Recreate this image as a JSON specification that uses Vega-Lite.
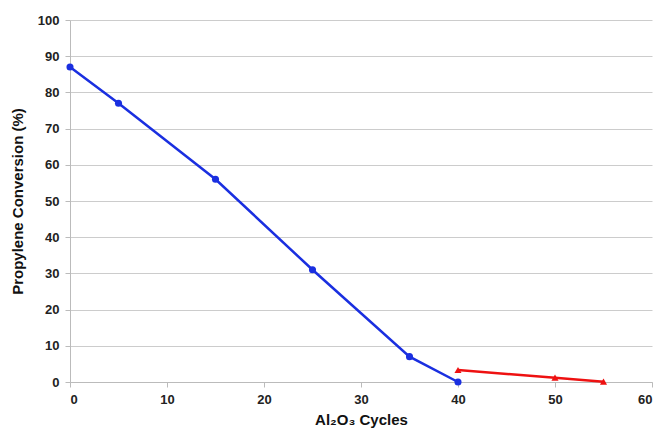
{
  "$schema": "https://vega.github.io/schema/vega-lite/v6.json",
  "width": 582,
  "height": 362,
  "autosize": "none",
  "padding": {"left": 70, "top": 20, "right": 10, "bottom": 53},
  "background": "white",
  "config": {
    "view": {"stroke": null},
    "font": "Liberation Sans",
    "axis": {
      "labelFont": "Liberation Sans",
      "titleFont": "Liberation Sans",
      "labelFontWeight": "bold",
      "titleFontWeight": "bold",
      "labelColor": "#222",
      "titleColor": "#111",
      "labelFontSize": 13,
      "titleFontSize": 15,
      "domainColor": "#bbbbbb",
      "tickColor": "#bbbbbb",
      "gridColor": "#cccccc"
    }
  },
  "data": {
    "values": [
      {"cycles": 0, "conv": 87, "series": "A"},
      {"cycles": 5, "conv": 77, "series": "A"},
      {"cycles": 15, "conv": 56, "series": "A"},
      {"cycles": 25, "conv": 31, "series": "A"},
      {"cycles": 35, "conv": 7, "series": "A"},
      {"cycles": 40, "conv": 0, "series": "A"},
      {"cycles": 40, "conv": 3.3, "series": "B"},
      {"cycles": 50, "conv": 1.2, "series": "B"},
      {"cycles": 55, "conv": 0.1, "series": "B"}
    ]
  },
  "encoding": {
    "x": {
      "field": "cycles", "type": "quantitative",
      "scale": {"domain": [0, 60], "nice": false},
      "axis": {"values": [0, 10, 20, 30, 40, 50, 60], "grid": false, "title": "Al₂O₃ Cycles", "titlePadding": 6, "labelPadding": 6, "tickSize": 5}
    },
    "y": {
      "field": "conv", "type": "quantitative",
      "scale": {"domain": [0, 100], "nice": false},
      "axis": {"values": [0, 10, 20, 30, 40, 50, 60, 70, 80, 90, 100], "grid": true, "title": "Propylene Conversion (%)", "titlePadding": 12, "labelPadding": 6, "tickSize": 5}
    },
    "color": {
      "field": "series", "type": "nominal",
      "scale": {"domain": ["A", "B"], "range": ["#1a2fe0", "#ee1111"]},
      "legend": null
    }
  },
  "layer": [
    {"mark": {"type": "line", "strokeWidth": 2.5}},
    {
      "mark": {"type": "point", "filled": true, "size": 50, "opacity": 1},
      "encoding": {
        "shape": {"field": "series", "type": "nominal", "scale": {"domain": ["A", "B"], "range": ["circle", "triangle-up"]}, "legend": null}
      }
    }
  ]
}
